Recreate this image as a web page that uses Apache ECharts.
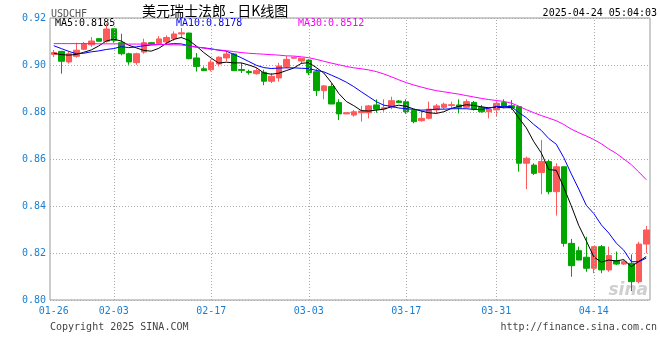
<!DOCTYPE html>
<html><head><meta charset="utf-8">
<script src="https://cdn.jsdelivr.net/npm/echarts@6/dist/echarts.min.js"></script>
<style>html,body{margin:0;padding:0;background:#fff}#c{width:660px;height:360px}</style>
</head><body><div id="c"></div>
<script>
const dates = ['01-26','01-27','01-28','01-29','01-30','01-31','02-01','02-02','02-03',
'02-04','02-05','02-06','02-07','02-08','02-10','02-11','02-12','02-13','02-14','02-15','02-16','02-17',
'02-18','02-19','02-20','02-21','02-22','02-24','02-25','02-26','02-27','02-28','03-01','03-02','03-03',
'03-04','03-05','03-06','03-07','03-08','03-10','03-11','03-12','03-13','03-14','03-15','03-16','03-17',
'03-18','03-19','03-20','03-21','03-22','03-24','03-25','03-26','03-27','03-28','03-29','03-31',
'04-01','04-02','04-03','04-04','04-05','04-07','04-08','04-09','04-10','04-11','04-12','04-13','04-14',
'04-15','04-16','04-17','04-21','04-22','04-23','04-24'];
const labelDates = ['01-26','02-03','02-17','03-03','03-17','03-31','04-14'];
const yTicks = [0.80, 0.82, 0.84, 0.86, 0.88, 0.90, 0.92];

const opens = [0.9045,0.9058,0.9013,0.9037,0.9067,0.9086,0.9112,0.9101,0.9154,0.9095,
0.9048,0.9010,0.9055,0.9095,0.9091,0.9098,0.9112,0.9132,0.9136,0.9030,
0.8984,0.8980,0.9004,0.9030,0.9047,0.8981,0.8972,0.8963,0.8969,0.8931,
0.8945,0.8993,0.9029,0.9017,0.9021,0.8971,0.8891,0.8908,0.8840,0.8792,
0.8787,0.8797,0.8797,0.8830,0.8813,0.8820,0.8847,0.8844,0.8806,0.8763,
0.8773,0.8809,0.8820,0.8828,0.8830,0.8820,0.8841,0.8820,0.8801,0.8809,
0.8840,0.8827,0.8823,0.8582,0.8574,0.8543,0.8589,0.8461,0.8567,0.8241,
0.8210,0.8182,0.8135,0.8227,0.8128,0.8167,0.8153,0.8156,0.8078,0.8238];
const closes = [0.9053,0.9016,0.9048,0.9063,0.9091,0.9102,0.9101,0.9153,0.9105,0.9048,
0.9013,0.9048,0.9095,0.9089,0.9111,0.9117,0.9132,0.9137,0.9027,0.8994,
0.8976,0.9012,0.9033,0.9047,0.8976,0.8977,0.8968,0.8976,0.8931,0.8952,
0.8996,0.9024,0.9033,0.9029,0.8967,0.8891,0.8911,0.8834,0.8792,0.8797,
0.8801,0.8804,0.8826,0.8812,0.8818,0.8848,0.8840,0.8801,0.8759,0.8773,
0.8812,0.8826,0.8833,0.8831,0.8820,0.8844,0.8812,0.8801,0.8812,0.8837,
0.8826,0.8818,0.8582,0.8603,0.8539,0.8589,0.8461,0.8567,0.8241,0.8146,
0.8170,0.8135,0.8227,0.8128,0.8189,0.8153,0.8163,0.8078,0.8238,0.8298];
const lows = [0.9034,0.8963,0.9006,0.9031,0.9063,0.9077,0.9100,0.9095,0.9095,0.9041,
0.9001,0.9001,0.9048,0.9087,0.9085,0.9089,0.9103,0.9115,0.9024,0.8972,
0.8975,0.8973,0.8994,0.9016,0.8975,0.8966,0.8959,0.8959,0.8914,0.8923,
0.8929,0.8986,0.9027,0.9004,0.8957,0.8868,0.8854,0.8834,0.8766,0.8791,
0.8780,0.8759,0.8773,0.8797,0.8801,0.8812,0.8838,0.8792,0.8752,0.8759,
0.8769,0.8794,0.8812,0.8813,0.8794,0.8816,0.8806,0.8797,0.8773,0.8780,
0.8816,0.8809,0.8546,0.8472,0.8532,0.8450,0.8450,0.8359,0.8227,0.8099,
0.8170,0.8120,0.8114,0.8114,0.8120,0.8149,0.8149,0.8038,0.8071,0.8199];
const highs = [0.9064,0.9060,0.9058,0.9095,0.9098,0.9119,0.9113,0.9177,0.9155,0.9133,
0.9052,0.9052,0.9112,0.9098,0.9123,0.9126,0.9143,0.9157,0.9137,0.9051,
0.8994,0.9023,0.9037,0.9058,0.9051,0.9009,0.8980,0.8987,0.8980,0.8966,
0.9009,0.9038,0.9034,0.9029,0.9024,0.8982,0.8915,0.8922,0.8854,0.8798,
0.8809,0.8826,0.8830,0.8854,0.8854,0.8865,0.8851,0.8854,0.8809,0.8806,
0.8844,0.8834,0.8840,0.8844,0.8854,0.8854,0.8847,0.8830,0.8820,0.8844,
0.8854,0.8851,0.8823,0.8610,0.8582,0.8681,0.8596,0.8582,0.8567,0.8260,
0.8227,0.8269,0.8227,0.8234,0.8227,0.8206,0.8170,0.8194,0.8248,0.8315];

const ma5 = [0.9050,0.9044,0.9042,0.9045,0.9054,0.9064,0.9081,0.9102,0.9110,0.9102,
0.9084,0.9073,0.9062,0.9059,0.9071,0.9092,0.9109,0.9117,0.9105,0.9081,
0.9053,0.9029,0.9008,0.9012,0.9009,0.9009,0.9000,0.8989,0.8966,0.8961,
0.8965,0.8976,0.8987,0.9007,0.9010,0.8989,0.8966,0.8926,0.8879,0.8845,
0.8827,0.8806,0.8804,0.8808,0.8812,0.8822,0.8829,0.8824,0.8813,0.8804,
0.8797,0.8794,0.8801,0.8815,0.8824,0.8831,0.8828,0.8822,0.8818,0.8821,
0.8818,0.8819,0.8775,0.8733,0.8674,0.8626,0.8555,0.8552,0.8479,0.8401,
0.8317,0.8252,0.8184,0.8161,0.8170,0.8166,0.8172,0.8142,0.8164,0.8185];
const ma10 = [0.9082,0.9070,0.9058,0.9048,0.9050,0.9056,0.9060,0.9066,0.9070,0.9078,
0.9074,0.9077,0.9082,0.9085,0.9087,0.9088,0.9091,0.9090,0.9082,0.9076,
0.9073,0.9069,0.9063,0.9059,0.9045,0.9031,0.9015,0.8999,0.8989,0.8985,
0.8987,0.8988,0.8988,0.8986,0.8985,0.8977,0.8971,0.8957,0.8943,0.8927,
0.8908,0.8886,0.8865,0.8844,0.8829,0.8824,0.8817,0.8814,0.8811,0.8808,
0.8809,0.8812,0.8812,0.8814,0.8814,0.8814,0.8811,0.8811,0.8816,0.8823,
0.8824,0.8823,0.8798,0.8776,0.8747,0.8722,0.8687,0.8663,0.8606,0.8537,
0.8472,0.8403,0.8368,0.8320,0.8285,0.8242,0.8212,0.8163,0.8163,0.8178];
const ma30 = [0.9091,0.9091,0.9091,0.9091,0.9091,0.9091,0.9090,0.9090,0.9090,0.9090,
0.9089,0.9089,0.9089,0.9088,0.9087,0.9087,0.9086,0.9085,0.9081,0.9077,
0.9072,0.9067,0.9064,0.9061,0.9057,0.9053,0.9050,0.9048,0.9046,0.9044,
0.9042,0.9039,0.9038,0.9035,0.9031,0.9024,0.9016,0.9008,0.9001,0.8994,
0.8988,0.8984,0.8979,0.8972,0.8962,0.8950,0.8937,0.8925,0.8915,0.8906,
0.8898,0.8891,0.8886,0.8881,0.8876,0.8870,0.8864,0.8858,0.8853,0.8849,
0.8845,0.8838,0.8825,0.8810,0.8797,0.8785,0.8774,0.8763,0.8747,0.8727,
0.8712,0.8698,0.8683,0.8665,0.8643,0.8624,0.8600,0.8576,0.8545,0.8512];

const titleText = '美元瑞士法郎 - 日K线图';
const symbolText = 'USDCHF';
const timeText = '2025-04-24 05:04:03';
const last = ma5.length - 1;

const candleData = opens.map((o, i) => [o, closes[i], lows[i], highs[i]]);
const UP = '#ff5a5a', DOWN = '#00a600';
const MONO = '"DejaVu Sans Mono", monospace';
const BLUE = '#1a7fd2';

const chart = echarts.init(document.getElementById('c'), null, {renderer: 'canvas'});
chart.setOption({
  animation: false,
  backgroundColor: '#fff',
  grid: {left: 50, right: 10, top: 18, bottom: 60, show: true, borderColor: '#999', borderWidth: 1, outerBoundsMode: 'none'},
  xAxis: {
    type: 'category', data: dates, boundaryGap: true,
    axisLine: {show: false}, axisTick: {show: false},
    axisLabel: {
      interval: (idx, val) => labelDates.indexOf(val) >= 0,
      color: BLUE, fontFamily: MONO, fontSize: 10, margin: 6
    },
    splitLine: {show: false}
  },
  yAxis: {
    type: 'value', min: yTicks[0], max: yTicks[yTicks.length - 1], interval: 0.02,
    axisLine: {show: false}, axisTick: {show: false},
    axisLabel: {color: BLUE, fontFamily: MONO, fontSize: 10, margin: 4, formatter: v => v.toFixed(2)},
    splitLine: {show: true, lineStyle: {color: '#aaa', type: [1, 2], width: 1}}
  },
  series: [
    {
      type: 'candlestick', data: candleData, barWidth: 6,
      itemStyle: {color: UP, color0: DOWN, borderColor: UP, borderColor0: DOWN, borderWidth: 1},
      markLine: {
        silent: true, symbol: 'none', label: {show: false},
        lineStyle: {color: '#aaa', type: [1, 2], width: 1},
        data: labelDates.slice(1).map(d => ({xAxis: d}))
      }
    },
    {type: 'line', data: ma5, symbol: 'none', lineStyle: {color: '#000', width: 1}, itemStyle: {color: '#000'}},
    {type: 'line', data: ma10, symbol: 'none', lineStyle: {color: '#0000ff', width: 1}, itemStyle: {color: '#0000ff'}},
    {type: 'line', data: ma30, symbol: 'none', lineStyle: {color: '#ff00ff', width: 1}, itemStyle: {color: '#ff00ff'}}
  ],
  graphic: [
    {type: 'text', left: 51, top: 9, style: {text: symbolText, font: '10px ' + MONO, fill: '#555'}},
    {type: 'text', left: 142, top: 4, style: {text: titleText, font: '14px "Noto Sans CJK SC"', fill: '#000'}},
    {type: 'text', right: 3, top: 8, style: {text: timeText, font: '10px ' + MONO, fill: '#000'}},
    {type: 'text', left: 55, top: 18, style: {text: 'MA5:' + ma5[last].toFixed(4), font: '10px ' + MONO, fill: '#000'}},
    {type: 'text', left: 176, top: 18, style: {text: 'MA10:' + ma10[last].toFixed(4), font: '10px ' + MONO, fill: '#0000ff'}},
    {type: 'text', left: 298, top: 18, style: {text: 'MA30:' + ma30[last].toFixed(4), font: '10px ' + MONO, fill: '#ff00ff'}},
    {type: 'text', left: 50, top: 322, style: {text: 'Copyright 2025 SINA.COM', font: '10px ' + MONO, fill: '#444'}},
    {type: 'text', right: 3, top: 322, style: {text: 'http://finance.sina.com.cn', font: '10px ' + MONO, fill: '#444'}},
    {type: 'text', right: 12, top: 282, style: {text: 'sina', font: 'italic bold 17px "DejaVu Sans"', fill: '#cfcfcf'}}
  ]
});
</script></body></html>
